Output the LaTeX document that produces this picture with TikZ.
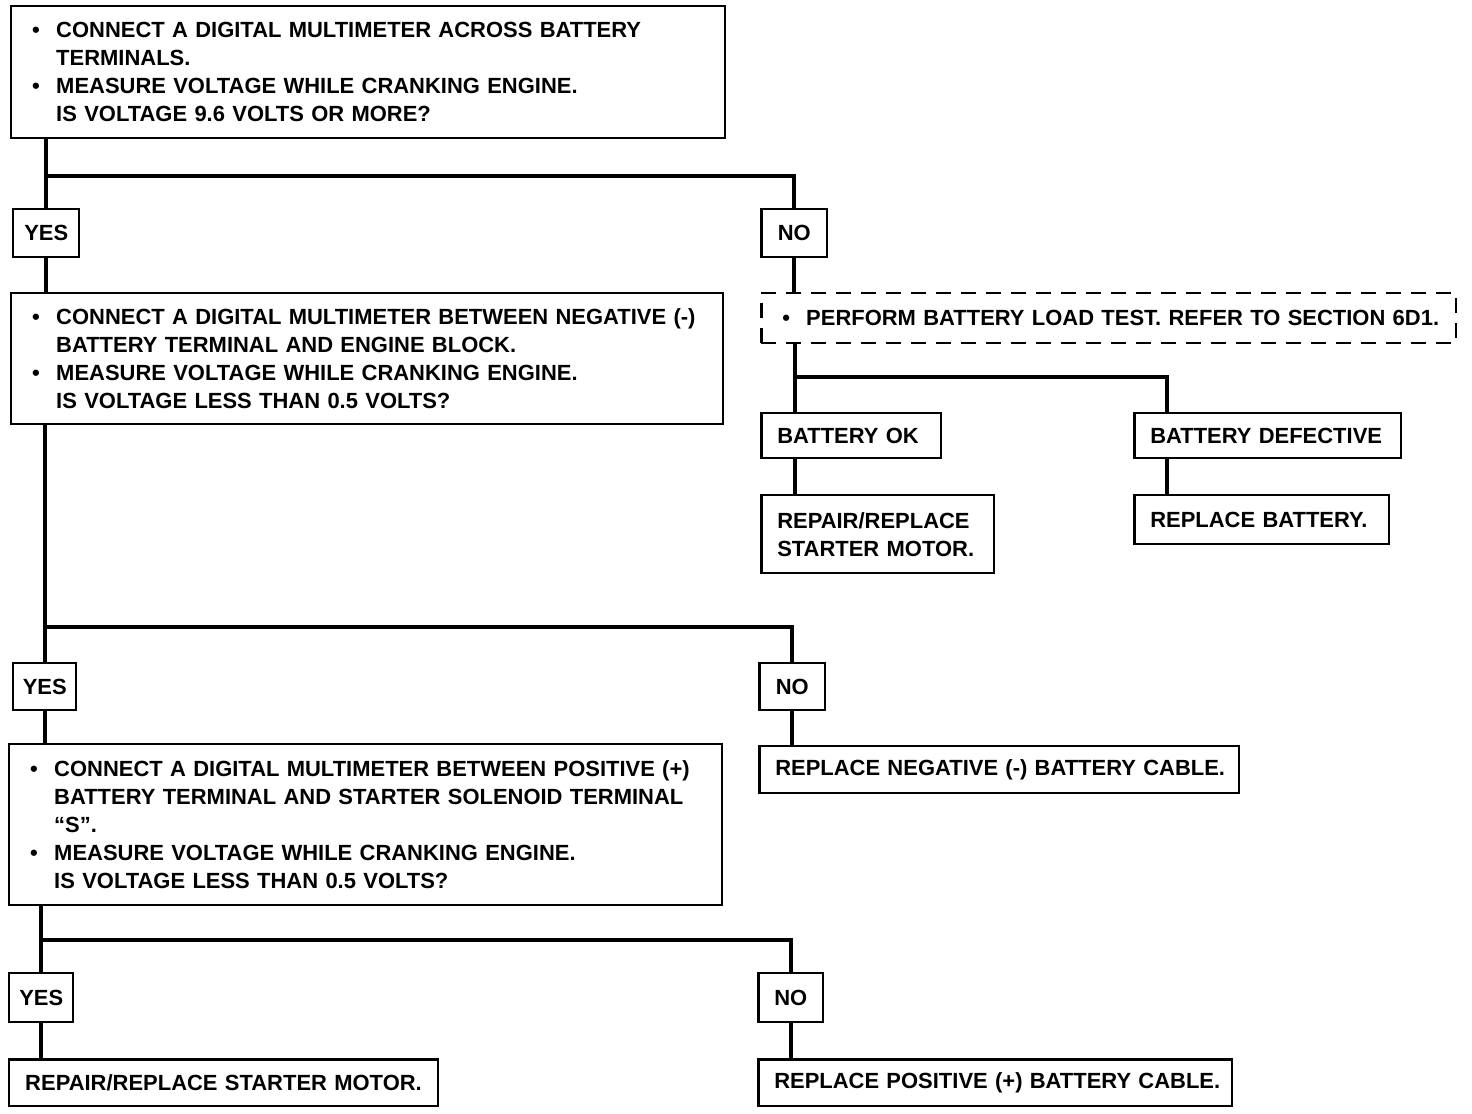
\documentclass[tikz,border=0pt]{standalone}
\usepackage{fontspec}
\setmainfont{Liberation Sans}
\usepackage{tikz}
\usetikzlibrary{positioning}

\newcommand\blt{\makebox[0.58cm][l]{\hspace{0.1cm}\textbullet}}
\newcommand\ind{\hspace*{0.58cm}}

\begin{document}
\begin{tikzpicture}[x=0.02cm,y=-0.02cm,
    box/.style={draw,line width=0.05cm,anchor=north west,inner xsep=0.32cm,inner ysep=0pt,
        align=left,font=\bfseries\fontsize{12.5}{15.94}\selectfont},
    ans/.style={box,align=center,inner xsep=0pt},
    link/.style={line width=0.08cm}]
        \useasboundingbox (0,0) rectangle (1472,1114);
        % first check
        \node[box,text width=13.64cm,minimum height=2.64cm] (q1) at (10,5)
            {\blt CONNECT A DIGITAL MULTIMETER ACROSS BATTERY\\
             \ind TERMINALS.\\
             \blt MEASURE VOLTAGE WHILE CRANKING ENGINE.\\
             \ind IS VOLTAGE 9.6 VOLTS OR MORE?};
        \node[ans,minimum width=1.32cm,minimum height=0.96cm] (yes1) at (12,208) {YES};
        \node[ans,minimum width=1.32cm,minimum height=0.96cm] (no1) at (760,208) {NO};
        % second check
        \node[box,text width=13.6cm,minimum height=2.62cm] (q2) at (10,292)
            {\blt CONNECT A DIGITAL MULTIMETER BETWEEN NEGATIVE (-)\\
             \ind BATTERY TERMINAL AND ENGINE BLOCK.\\
             \blt MEASURE VOLTAGE WHILE CRANKING ENGINE.\\
             \ind IS VOLTAGE LESS THAN 0.5 VOLTS?};
        \node[box,dash pattern=on 0.3cm off 0.2cm,text width=13.26cm,minimum height=1cm] (load) at (760,292)
            {\mbox{\blt PERFORM BATTERY LOAD TEST. REFER TO SECTION 6D1.}};
        \node[box,text width=2.96cm,minimum height=0.9cm] (ok) at (760,412) {\mbox{BATTERY OK}};
        \node[box,text width=4.7cm,minimum height=0.9cm] (bad) at (1133,412) {\mbox{BATTERY DEFECTIVE}};
        \node[box,text width=4.02cm,minimum height=1.56cm] (motor1) at (760,494)
            {\mbox{REPAIR/REPLACE}\\ \mbox{STARTER MOTOR.}};
        \node[box,text width=4.46cm,minimum height=0.98cm] (newbat) at (1133,494) {\mbox{REPLACE BATTERY.}};
        \node[ans,minimum width=1.26cm,minimum height=0.94cm] (yes2) at (12,662) {YES};
        \node[ans,minimum width=1.32cm,minimum height=0.94cm] (no2) at (758,662) {NO};
        % third check
        \node[box,text width=13.62cm,minimum height=3.22cm] (q3) at (8,743)
            {\blt CONNECT A DIGITAL MULTIMETER BETWEEN POSITIVE (+)\\
             \ind BATTERY TERMINAL AND STARTER SOLENOID TERMINAL\\
             \ind ``S''.\\
             \blt MEASURE VOLTAGE WHILE CRANKING ENGINE.\\
             \ind IS VOLTAGE LESS THAN 0.5 VOLTS?};
        \node[box,text width=8.96cm,minimum height=0.94cm] (negcab) at (758,745)
            {\mbox{REPLACE NEGATIVE (-) BATTERY CABLE.}};
        \node[ans,minimum width=1.28cm,minimum height=0.98cm] (yes3) at (8,972) {YES};
        \node[ans,minimum width=1.3cm,minimum height=0.98cm] (no3) at (757,972) {NO};
        \node[box,text width=7.94cm,minimum height=0.94cm] (motor2) at (8,1058)
            {\mbox{REPAIR/REPLACE STARTER MOTOR.}};
        \node[box,text width=8.84cm,minimum height=0.94cm] (poscab) at (757,1058)
            {\mbox{REPLACE POSITIVE (+) BATTERY CABLE.}};
        % junctions
        \coordinate (j1) at (0,176);
        \coordinate (j2) at (0,377);
        \coordinate (j3) at (0,627);
        \coordinate (j4) at (0,940);
        \coordinate (okx) at (795,0);
        \coordinate (badx) at (1167,0);
        % connectors
        \draw[link] (q1.south -| yes1.north) -- (yes1.north);
        \draw[link] (j1 -| yes1.north) -| (no1.north);
        \draw[link] (yes1.south) -- (q2.north -| yes1.south);
        \draw[link] (no1.south) -- (load.north -| no1.south);
        \draw[link] (load.south -| okx) -- (ok.north -| okx);
        \draw[link] (j2 -| okx) -| (bad.north -| badx);
        \draw[link] (ok.south -| okx) -- (motor1.north -| okx);
        \draw[link] (bad.south -| badx) -- (newbat.north -| badx);
        \draw[link] (q2.south -| yes2.north) -- (yes2.north);
        \draw[link] (j3 -| yes2.north) -| (no2.north);
        \draw[link] (yes2.south) -- (q3.north -| yes2.south);
        \draw[link] (no2.south) -- (negcab.north -| no2.south);
        \draw[link] (q3.south -| yes3.north) -- (yes3.north);
        \draw[link] (j4 -| yes3.north) -| (no3.north);
        \draw[link] (yes3.south) -- (motor2.north -| yes3.south);
        \draw[link] (no3.south) -- (poscab.north -| no3.south);
\end{tikzpicture}
\end{document}
